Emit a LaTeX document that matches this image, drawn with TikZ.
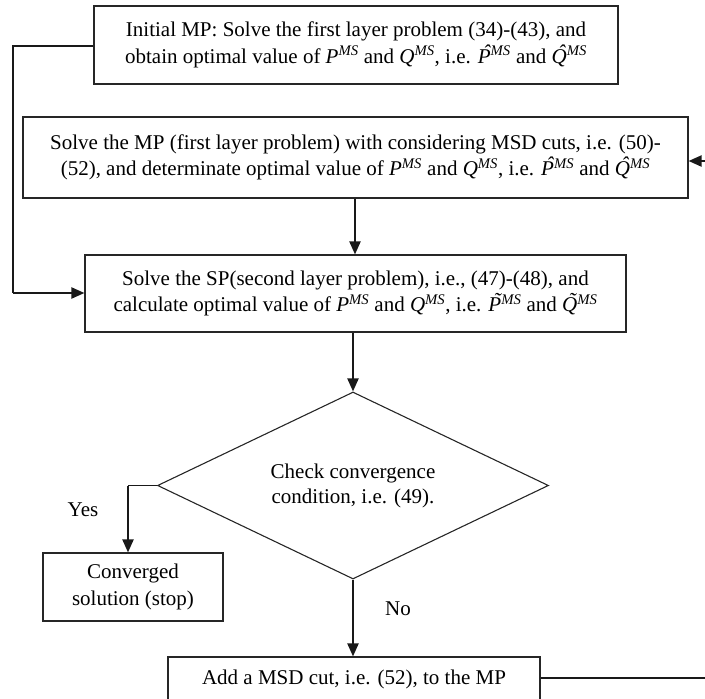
\documentclass[tikz,border=0pt]{standalone}
\usepackage{fontspec}
\setmainfont{Liberation Serif}
\usetikzlibrary{shapes.geometric,arrows.meta}
\newcommand{\accover}[2]{\ooalign{#2\cr\hidewidth\kern0.22em\raisebox{0.2em}{#1}\hidewidth\cr}}
\newcommand{\MSv}[1]{\textit{#1}\textsuperscript{\textit{MS}}}
\newcommand{\MShat}[1]{\textit{\accover{ˆ}{#1}}\textsuperscript{\textit{MS}}}
\newcommand{\MStil}[1]{\textit{\accover{˜}{#1}}\textsuperscript{\textit{MS}}}
\begin{document}
\begin{tikzpicture}[x=1pt,y=-1pt,
  txt/.style={font=\fontsize{21}{26.5}\selectfont, align=center},
  box/.style={txt, draw=black!85, line width=1.1pt, inner sep=0pt},
  flow/.style={draw=black!90, line width=2pt, -{Triangle[length=13pt,width=11pt]}},
  plain/.style={draw=black!90, line width=1.3pt}]
\useasboundingbox (0,0) rectangle (705,699);
\clip (0,0) rectangle (705,699);
\node[box, minimum width=524pt, minimum height=78pt] (b1) at (356,45)
  {Initial MP: Solve the first layer problem (34)-(43), and\\
   obtain optimal value of \MSv{P} and \MSv{Q}, i.e. \MShat{P} and \MShat{Q}};
\node[box, minimum width=665pt, minimum height=81pt] (b2) at (355.5,157.5)
  {Solve the MP (first layer problem) with considering MSD cuts, i.e. (50)-\\
   (52), and determinate optimal value of \MSv{P} and \MSv{Q}, i.e. \MShat{P} and \MShat{Q}};
\node[box, minimum width=541pt, minimum height=77pt] (b3) at (355.5,293.5)
  {Solve the SP(second layer problem), i.e., (47)-(48), and\\
   calculate optimal value of \MSv{P} and \MSv{Q}, i.e. \MStil{P} and \MStil{Q}};
\node[txt, draw=black!85, line width=1.1pt, diamond, inner sep=0pt, aspect=2.09,
  minimum width=391pt, minimum height=187pt] (d) at (353,485.5)
  {\raisebox{2pt}{\shortstack{Check convergence\\[3pt] condition, i.e. (49).}}};
\node[box, minimum width=180pt, minimum height=68pt] (b4) at (133,587)
  {Converged\\ solution (stop)};
\node[box, minimum width=372pt, minimum height=45pt] (b5) at (354,679.5)
  {Add a MSD cut, i.e. (52), to the MP};
\node[txt] (yes) at (83,510) {Yes};
\node[txt] (no) at (398,609) {No};
% connectors
\coordinate (l1) at (13,46);
\coordinate (l2) at (13,293);
\coordinate (b1w) at (b1.west |- l1);
\coordinate (b3w) at (b3.west |- l2);
\draw[plain] (b1w) -- (l1) -- (l2);
\draw[flow] (l2) -- (b3w);
\coordinate (c23) at (355,0);
\draw[flow] (c23 |- b2.south) -- (c23 |- b3.north);
\draw[flow] (d.north |- b3.south) -- (d.north);
\coordinate (y1) at (128,0);
\draw[plain] (d.west) -- (y1 |- d.west);
\draw[flow] (y1 |- d.west) -- (y1 |- b4.north);
\draw[flow] (d.south) -- (d.south |- b5.north);
\coordinate (r1) at (712,678);
\coordinate (r2) at (712,161);
\coordinate (b5e) at (b5.east |- r1);
\coordinate (b2e) at (b2.east |- r2);
\draw[plain] (b5e) -- (r1) -- (r2);
\draw[flow] (r2) -- (b2e);
\end{tikzpicture}
\end{document}
